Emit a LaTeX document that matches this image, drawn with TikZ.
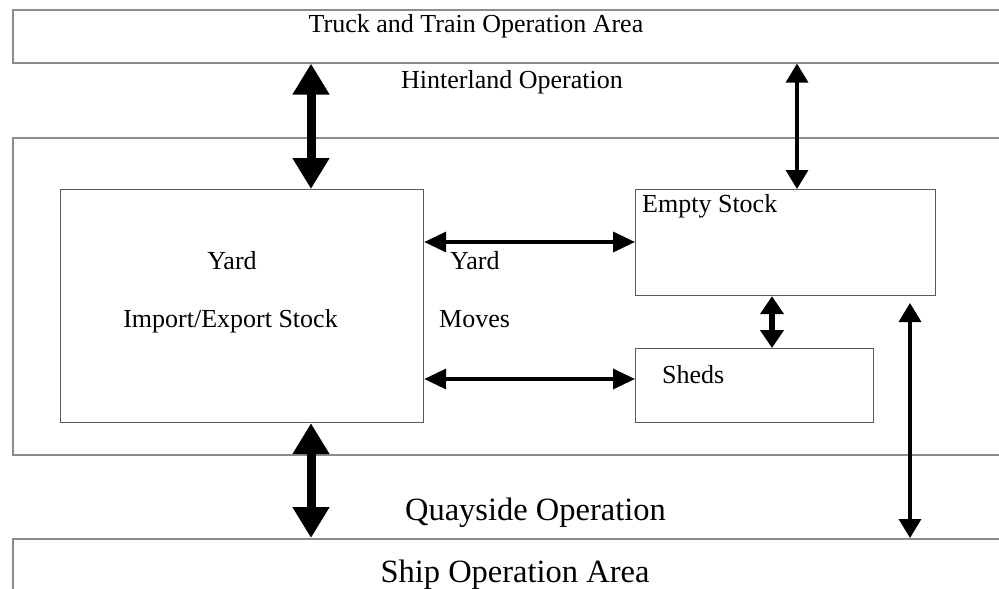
\documentclass[tikz,border=0pt]{standalone}
\usepackage{fontspec}
\setmainfont{Liberation Serif}
\usetikzlibrary{arrows.meta}
\begin{document}
\begin{tikzpicture}[x=1pt,y=-1pt,
  band/.style={draw=black!45, line width=1.6pt, inner sep=0, anchor=north west},
  box/.style={draw=black!65, line width=1.2pt, inner sep=0, anchor=north west},
  lbl/.style={inner sep=0, font=\fontsize{26}{30}\selectfont},
  biglbl/.style={inner sep=0, font=\fontsize{32.5}{38}\selectfont},
  heavy/.style={line width=9pt, {Triangle[width=35pt,length=31pt]}-{Triangle[width=35pt,length=31pt]}},
  medium/.style={line width=6pt, {Triangle[width=23pt,length=18pt]}-{Triangle[width=23pt,length=18pt]}},
  light/.style={line width=3.5pt, {Triangle[width=22pt,length=19pt]}-{Triangle[width=22pt,length=19pt]}},
  flat/.style={line width=3.5pt, {Triangle[width=20pt,length=22pt]}-{Triangle[width=20pt,length=22pt]}}]
\useasboundingbox (0,0) rectangle (999,589);
\clip (0,0) rectangle (999,589);

% operation areas (open to the right)
\node[band, minimum width=1000pt, minimum height=53pt] (truck) at (12,9) {};
\node[band, minimum width=1000pt, minimum height=317pt] (terminal) at (12,137) {};
\node[band, minimum width=1000pt, minimum height=70pt] (ship) at (12,538) {};

% storage areas
\node[box, minimum width=363pt, minimum height=233pt] (yard) at (60,189) {};
\node[box, minimum width=300pt, minimum height=106pt] (empty) at (635,189) {};
\node[box, minimum width=238pt, minimum height=74pt] (sheds) at (635,348) {};

% labels
\node[lbl, anchor=base] (truckT) at (476,32) {Truck and Train Operation Area};
\node[lbl, anchor=base] (hinterT) at (512,88) {Hinterland Operation};
\node[lbl, anchor=base] (yardT) at (232,269) {Yard};
\node[lbl, anchor=base] (stockT) at (230.5,327) {Import/Export Stock};
\node[lbl, anchor=base west] (movesA) at (450,269) {Yard};
\node[lbl, anchor=base west] (movesB) at (439,327) {Moves};
\node[lbl, anchor=base west] (emptyT) at (642,212) {Empty Stock};
\node[lbl, anchor=base west] (shedsT) at (662,383) {Sheds};
\node[biglbl, anchor=base] (quayT) at (535.5,520) {Quayside Operation};
\node[biglbl, anchor=base] (shipT) at (515,582) {Ship Operation Area};

% arrow positions
\coordinate (xa) at (311,0);
\coordinate (xb) at (797,0);
\coordinate (xc) at (772,0);
\coordinate (qtop) at (910,303);
\coordinate (ya) at (0,242);
\coordinate (yb) at (0,379);

% flows
\draw[heavy] (xa |- truck.south) -- (xa |- yard.north);
\draw[heavy] (xa |- yard.south) -- (xa |- ship.north);
\draw[light] (xb |- truck.south) -- (xb |- empty.north);
\draw[flat] (yard.east |- ya) -- (empty.west |- ya);
\draw[flat] (yard.east |- yb) -- (sheds.west |- yb);
\draw[medium] (xc |- empty.south) -- (xc |- sheds.north);
\draw[light] (qtop) -- (qtop |- ship.north);
\end{tikzpicture}
\end{document}
